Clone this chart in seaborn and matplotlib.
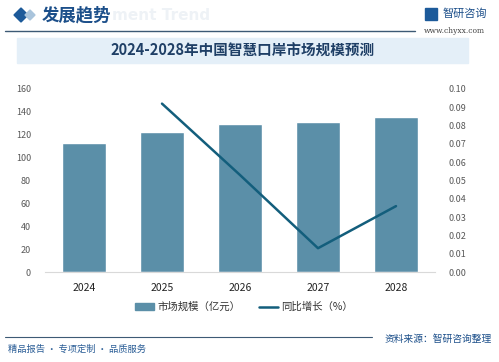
import matplotlib
matplotlib.use("Agg")
import matplotlib.pyplot as plt
import seaborn as sns
import pandas as pd
from matplotlib.patches import Rectangle, Polygon
from matplotlib.lines import Line2D

years = ["2024", "2025", "2026", "2027", "2028"]
market_size = [112.5, 122.6, 129.4, 131.4, 135.8]
growth_years = ["2025", "2026", "2027", "2028"]
growth_rate = [0.092, 0.053, 0.013, 0.036]
left_ticks = [0, 20, 40, 60, 80, 100, 120, 140, 160]
right_ticks = [0.00, 0.01, 0.02, 0.03, 0.04, 0.05, 0.06, 0.07, 0.08, 0.09, 0.10]

sns.set_theme(style="white")
plt.rcParams['font.family'] = ['Noto Sans CJK SC', 'DejaVu Sans']

W, H = 499, 362
fig = plt.figure(figsize=(W / 100, H / 100), dpi=100)

def fx(px):
    return px / W

def fy(py):
    return 1 - py / H

BAR_C = "#5b8fa8"
LINE_C = "#135e7c"
NAVY = "#1f3f66"

# header
fig.patches.append(Polygon([[fx(14), fy(15)], [fx(21), fy(8)], [fx(28), fy(15)], [fx(21), fy(22)]],
                           closed=True, transform=fig.transFigure, color="#1c5a9a"))
fig.patches.append(Polygon([[fx(25), fy(15)], [fx(30), fy(10)], [fx(35), fy(15)], [fx(30), fy(20)]],
                           closed=True, transform=fig.transFigure, color="#a9c4dc"))
fig.text(fx(112), fy(16), "ment Trend", fontsize=11, fontweight="bold", color="#eef2f6", va="center", ha="left",
         family="DejaVu Sans", zorder=0)
fig.text(fx(42), fy(15), "发展趋势", fontsize=12.5, fontweight="bold", color="#1c4f8a", va="center", ha="left",
         zorder=2)
fig.add_artist(Line2D([fx(5), fx(415)], [fy(31), fy(31)], color="#3d5a75", lw=1.0))
fig.text(fx(443), fy(14), "智研咨询", fontsize=8, color="#1c4f8a", va="center", ha="left")
fig.patches.append(Rectangle((fx(425), fy(20)), 12 / W, 12 / H, transform=fig.transFigure, color="#1c5a9a"))
fig.text(fx(424), fy(31), "www.chyxx.com", fontsize=5.5, color="#444444", va="center", ha="left",
         family="DejaVu Serif")

# title box
fig.patches.append(Rectangle((fx(17), fy(63)), (468 - 17) / W, 25 / H, transform=fig.transFigure,
                             color="#e4eff8", zorder=0))
fig.text(fx(243), fy(50.5), "2024-2028年中国智慧口岸市场规模预测", fontsize=10.5, fontweight="bold",
         color=NAVY, va="center", ha="center")

# main axes
ax = fig.add_axes([fx(45), fy(272), 390 / W, 183 / H])
df = pd.DataFrame({"year": years, "size": market_size})
sns.barplot(data=df, x="year", y="size", color=BAR_C, saturation=1, width=0.57, ax=ax)
ax.set_ylim(0, 160)
ax.set_xlim(-0.5, len(years) - 0.5)
ax.set_yticks(left_ticks)
ax.set_yticklabels([str(t) for t in left_ticks])
ax.set_xlabel("")
ax.set_ylabel("")
for s in ["top", "right", "left"]:
    ax.spines[s].set_visible(False)
ax.spines["bottom"].set_color("#d9d9d9")
ax.spines["bottom"].set_linewidth(0.8)
ax.tick_params(axis="y", length=0, labelsize=6.5, labelcolor="#595959", pad=10)
ax.tick_params(axis="x", length=0, labelsize=7.5, labelcolor="#222222", pad=8)

ax2 = ax.twinx()
gx = [years.index(y) for y in growth_years]
gdf = pd.DataFrame({"x": gx, "rate": growth_rate})
sns.lineplot(data=gdf, x="x", y="rate", color=LINE_C, lw=1.8, ax=ax2)
ax2.set_ylim(0, 0.10)
ax2.set_yticks(right_ticks)
ax2.set_yticklabels([f"{t:.2f}" for t in right_ticks])
ax2.set_ylabel("")
ax2.set_xlabel("")
for s in ax2.spines.values():
    s.set_visible(False)
ax2.tick_params(axis="y", length=0, labelsize=6.5, labelcolor="#595959", pad=10)
ax2.set_xlim(-0.5, len(years) - 0.5)

# legend
handles = [Rectangle((0, 0), 1, 1, color=BAR_C), Line2D([0], [0], color=LINE_C, lw=1.8)]
fig.legend(handles, ["市场规模（亿元）", "同比增长（%）"], loc="center", bbox_to_anchor=(fx(244), fy(307)),
           ncol=2, frameon=False, fontsize=7.5, handlelength=1.8, handleheight=0.6, columnspacing=1.8,
           handletextpad=0.3, labelcolor="#333333")

# footer
fig.add_artist(Line2D([fx(5), fx(372)], [fy(337), fy(337)], color="#3d5a75", lw=0.8))
fig.text(fx(8), fy(349), "精品报告 · 专项定制 · 品质服务", fontsize=6.7, color="#2a5d96", va="center", ha="left")
fig.text(fx(492), fy(339), "资料来源：智研咨询整理", fontsize=7, color="#1c4f8a", va="center", ha="right")

fig.savefig("out.png", dpi=100)
